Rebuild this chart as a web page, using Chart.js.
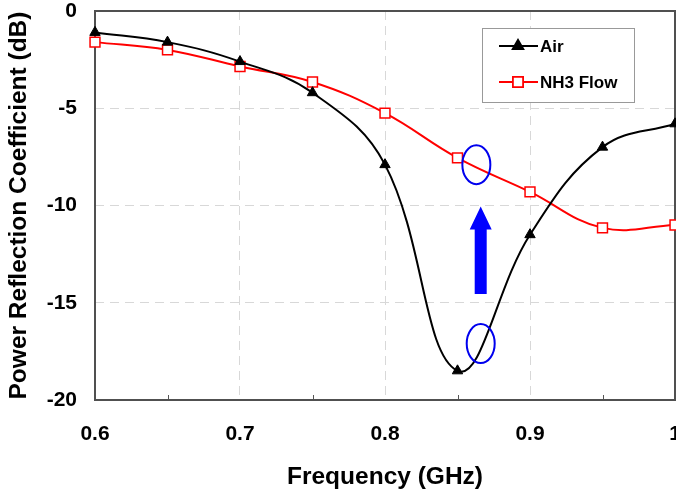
<!DOCTYPE html>
<html>
<head>
<meta charset="utf-8">
<script src="https://cdn.jsdelivr.net/npm/chart.js@4.4.1/dist/chart.umd.min.js"></script>
<style>
html, body { margin: 0; padding: 0; background: #fff; overflow: hidden; }
#wrap { width: 676px; height: 492px; overflow: hidden; }
</style>
</head>
<body>
<div id="wrap"><canvas id="chart" width="700" height="492"></canvas></div>
<script>
// data
var freq = [0.6, 0.65, 0.7, 0.75, 0.8, 0.85, 0.9, 0.95, 1.0];
var airValues = [-1.1, -1.6, -2.6, -4.2, -7.9, -18.5, -11.5, -7.0, -5.8];
var nh3Values = [-1.6, -2.0, -2.85, -3.65, -5.25, -7.55, -9.3, -11.15, -11.0];
var xTickValues = [0.6, 0.7, 0.8, 0.9, 1.0];
var xTickLabels = ['0.6', '0.7', '0.8', '0.9', '1'];
var seriesNames = ['Air', 'NH3 Flow'];

// annotations, in data units
var ellipseCenters = [{x: 0.863, y: -7.9}, {x: 0.866, y: -17.1}];
var arrowFrom = {x: 0.866, y: -14.55};
var arrowTo = {x: 0.866, y: -10.05};

var FONT = "'Liberation Sans', Arial, sans-serif";

function toXY(xs, ys) {
    var out = [];
    for (var i = 0; i < xs.length; i++) out.push({x: xs[i], y: ys[i]});
    return out;
}

var extras = {
    id: 'extras',
    beforeDatasetsDraw: function(chart) {
        var ctx = chart.ctx;
        var a = chart.chartArea;
        var xs = chart.scales.x;
        ctx.save();
        // minor ticks on the bottom axis
        ctx.strokeStyle = '#555';
        ctx.lineWidth = 1;
        for (var i = 1; i < freq.length - 1; i += 2) {
            var px = Math.round(xs.getPixelForValue(freq[i])) + 0.5;
            ctx.beginPath();
            ctx.moveTo(px, a.bottom);
            ctx.lineTo(px, a.bottom - 5);
            ctx.stroke();
        }
        // frame
        ctx.strokeStyle = '#505050';
        ctx.lineWidth = 2;
        ctx.strokeRect(a.left, a.top, a.right - a.left, a.bottom - a.top);
        ctx.restore();
    },
    afterDraw: function(chart) {
        var ctx = chart.ctx;
        var xs = chart.scales.x, ys = chart.scales.y;
        ctx.save();

        // blue ellipses
        ctx.strokeStyle = '#0000ee';
        ctx.lineWidth = 2;
        ellipseCenters.forEach(function(c) {
            ctx.beginPath();
            ctx.ellipse(xs.getPixelForValue(c.x), ys.getPixelForValue(c.y), 14, 19.5, 0, 0, Math.PI * 2);
            ctx.stroke();
        });

        // blue arrow
        var ax = xs.getPixelForValue(arrowFrom.x);
        var y0 = ys.getPixelForValue(arrowFrom.y);
        var y1 = ys.getPixelForValue(arrowTo.y);
        var headH = 23;
        ctx.fillStyle = '#0000ff';
        ctx.beginPath();
        ctx.moveTo(ax - 6, y0);
        ctx.lineTo(ax - 6, y1 + headH);
        ctx.lineTo(ax - 11, y1 + headH);
        ctx.lineTo(ax, y1);
        ctx.lineTo(ax + 11, y1 + headH);
        ctx.lineTo(ax + 6, y1 + headH);
        ctx.lineTo(ax + 6, y0);
        ctx.closePath();
        ctx.fill();

        // legend box
        var bx = 482, by = 28, bw = 152, bh = 74;
        ctx.fillStyle = '#fff';
        ctx.fillRect(bx, by, bw, bh);
        ctx.strokeStyle = '#999';
        ctx.lineWidth = 1;
        ctx.strokeRect(bx + 0.5, by + 0.5, bw, bh);

        var rows = [by + 18, by + 54];
        chart.data.datasets.forEach(function(ds, i) {
            var ry = rows[i];
            ctx.strokeStyle = ds.borderColor;
            ctx.lineWidth = 2;
            ctx.beginPath();
            ctx.moveTo(bx + 17, ry);
            ctx.lineTo(bx + 56, ry);
            ctx.stroke();
            Chart.helpers.drawPoint(ctx, {
                pointStyle: ds.pointStyle,
                radius: ds.pointRadius,
                borderWidth: ds.pointBorderWidth || 1
            }, bx + 36, ry);
            ctx.fillStyle = ds.pointBackgroundColor;
            ctx.fill();
            if (ds.pointStyle !== 'triangle') {
                ctx.strokeStyle = ds.pointBorderColor;
                ctx.lineWidth = ds.pointBorderWidth;
                ctx.stroke();
            }
            ctx.fillStyle = '#000';
            ctx.font = 'bold 17px ' + FONT;
            ctx.textBaseline = 'middle';
            ctx.textAlign = 'left';
            ctx.fillText(ds.label, bx + 58, ry + 1);
        });
        ctx.restore();
    }
};

var ctx = document.getElementById('chart').getContext('2d');
var chart = new Chart(ctx, {
    type: 'line',
    data: {
        datasets: [
            {
                label: seriesNames[0],
                data: toXY(freq, airValues),
                borderColor: '#000',
                borderWidth: 2,
                backgroundColor: '#000',
                pointStyle: 'triangle',
                pointRadius: 6,
                pointBackgroundColor: '#000',
                pointBorderColor: '#000',
                pointBorderWidth: 1,
                tension: 0.4,
                clip: false
            },
            {
                label: seriesNames[1],
                data: toXY(freq, nh3Values),
                borderColor: '#ff0000',
                borderWidth: 2,
                backgroundColor: '#fff',
                pointStyle: 'rect',
                pointRadius: 7,
                pointBackgroundColor: '#fff',
                pointBorderColor: '#ff0000',
                pointBorderWidth: 1.5,
                tension: 0.4,
                clip: false
            }
        ]
    },
    options: {
        responsive: false,
        animation: false,
        devicePixelRatio: 1,
        layout: { padding: { left: 0, top: 11, right: 25, bottom: 0 } },
        plugins: {
            legend: { display: false },
            tooltip: { enabled: false }
        },
        scales: {
            x: {
                type: 'linear',
                min: 0.6,
                max: 1.0,
                afterBuildTicks: function(scale) {
                    scale.ticks = xTickValues.map(function(v) { return {value: v}; });
                },
                afterFit: function(scale) {
                    scale.height = 92;
                    scale.paddingLeft = 0;
                    scale.paddingRight = 0;
                },
                ticks: {
                    color: '#000',
                    font: { family: FONT, size: 21, weight: 'bold' },
                    padding: 22,
                    maxRotation: 0,
                    callback: function(value, index) { return xTickLabels[index]; }
                },
                grid: {
                    drawTicks: false,
                    color: function(c) {
                        var v = c.tick ? c.tick.value : 0;
                        return (v > 0.61 && v < 0.99) ? '#d8d8d8' : 'rgba(0,0,0,0)';
                    },
                    lineWidth: 1
                },
                border: { display: false, dash: [9, 6] },
                title: {
                    display: true,
                    text: 'Frequency (GHz)',
                    color: '#000',
                    font: { family: FONT, size: 24.5, weight: 'bold' },
                    padding: { top: 0, bottom: 0 }
                }
            },
            y: {
                min: -20,
                max: 0,
                afterFit: function(scale) {
                    scale.width = 95;
                    scale.paddingTop = 0;
                    scale.paddingBottom = 0;
                },
                ticks: {
                    stepSize: 5,
                    color: '#000',
                    font: { family: FONT, size: 21, weight: 'bold' },
                    padding: 18
                },
                grid: {
                    drawTicks: false,
                    color: function(c) {
                        var v = c.tick ? c.tick.value : 0;
                        return (v < -0.1 && v > -19.9) ? '#d8d8d8' : 'rgba(0,0,0,0)';
                    },
                    lineWidth: 1
                },
                border: { display: false, dash: [9, 6] },
                title: {
                    display: true,
                    text: 'Power Reflection Coefficient (dB)',
                    color: '#000',
                    font: { family: FONT, size: 24.5, weight: 'bold' },
                    padding: { top: 5, bottom: 0 }
                }
            }
        }
    },
    plugins: [extras]
});
</script>
</body>
</html>
